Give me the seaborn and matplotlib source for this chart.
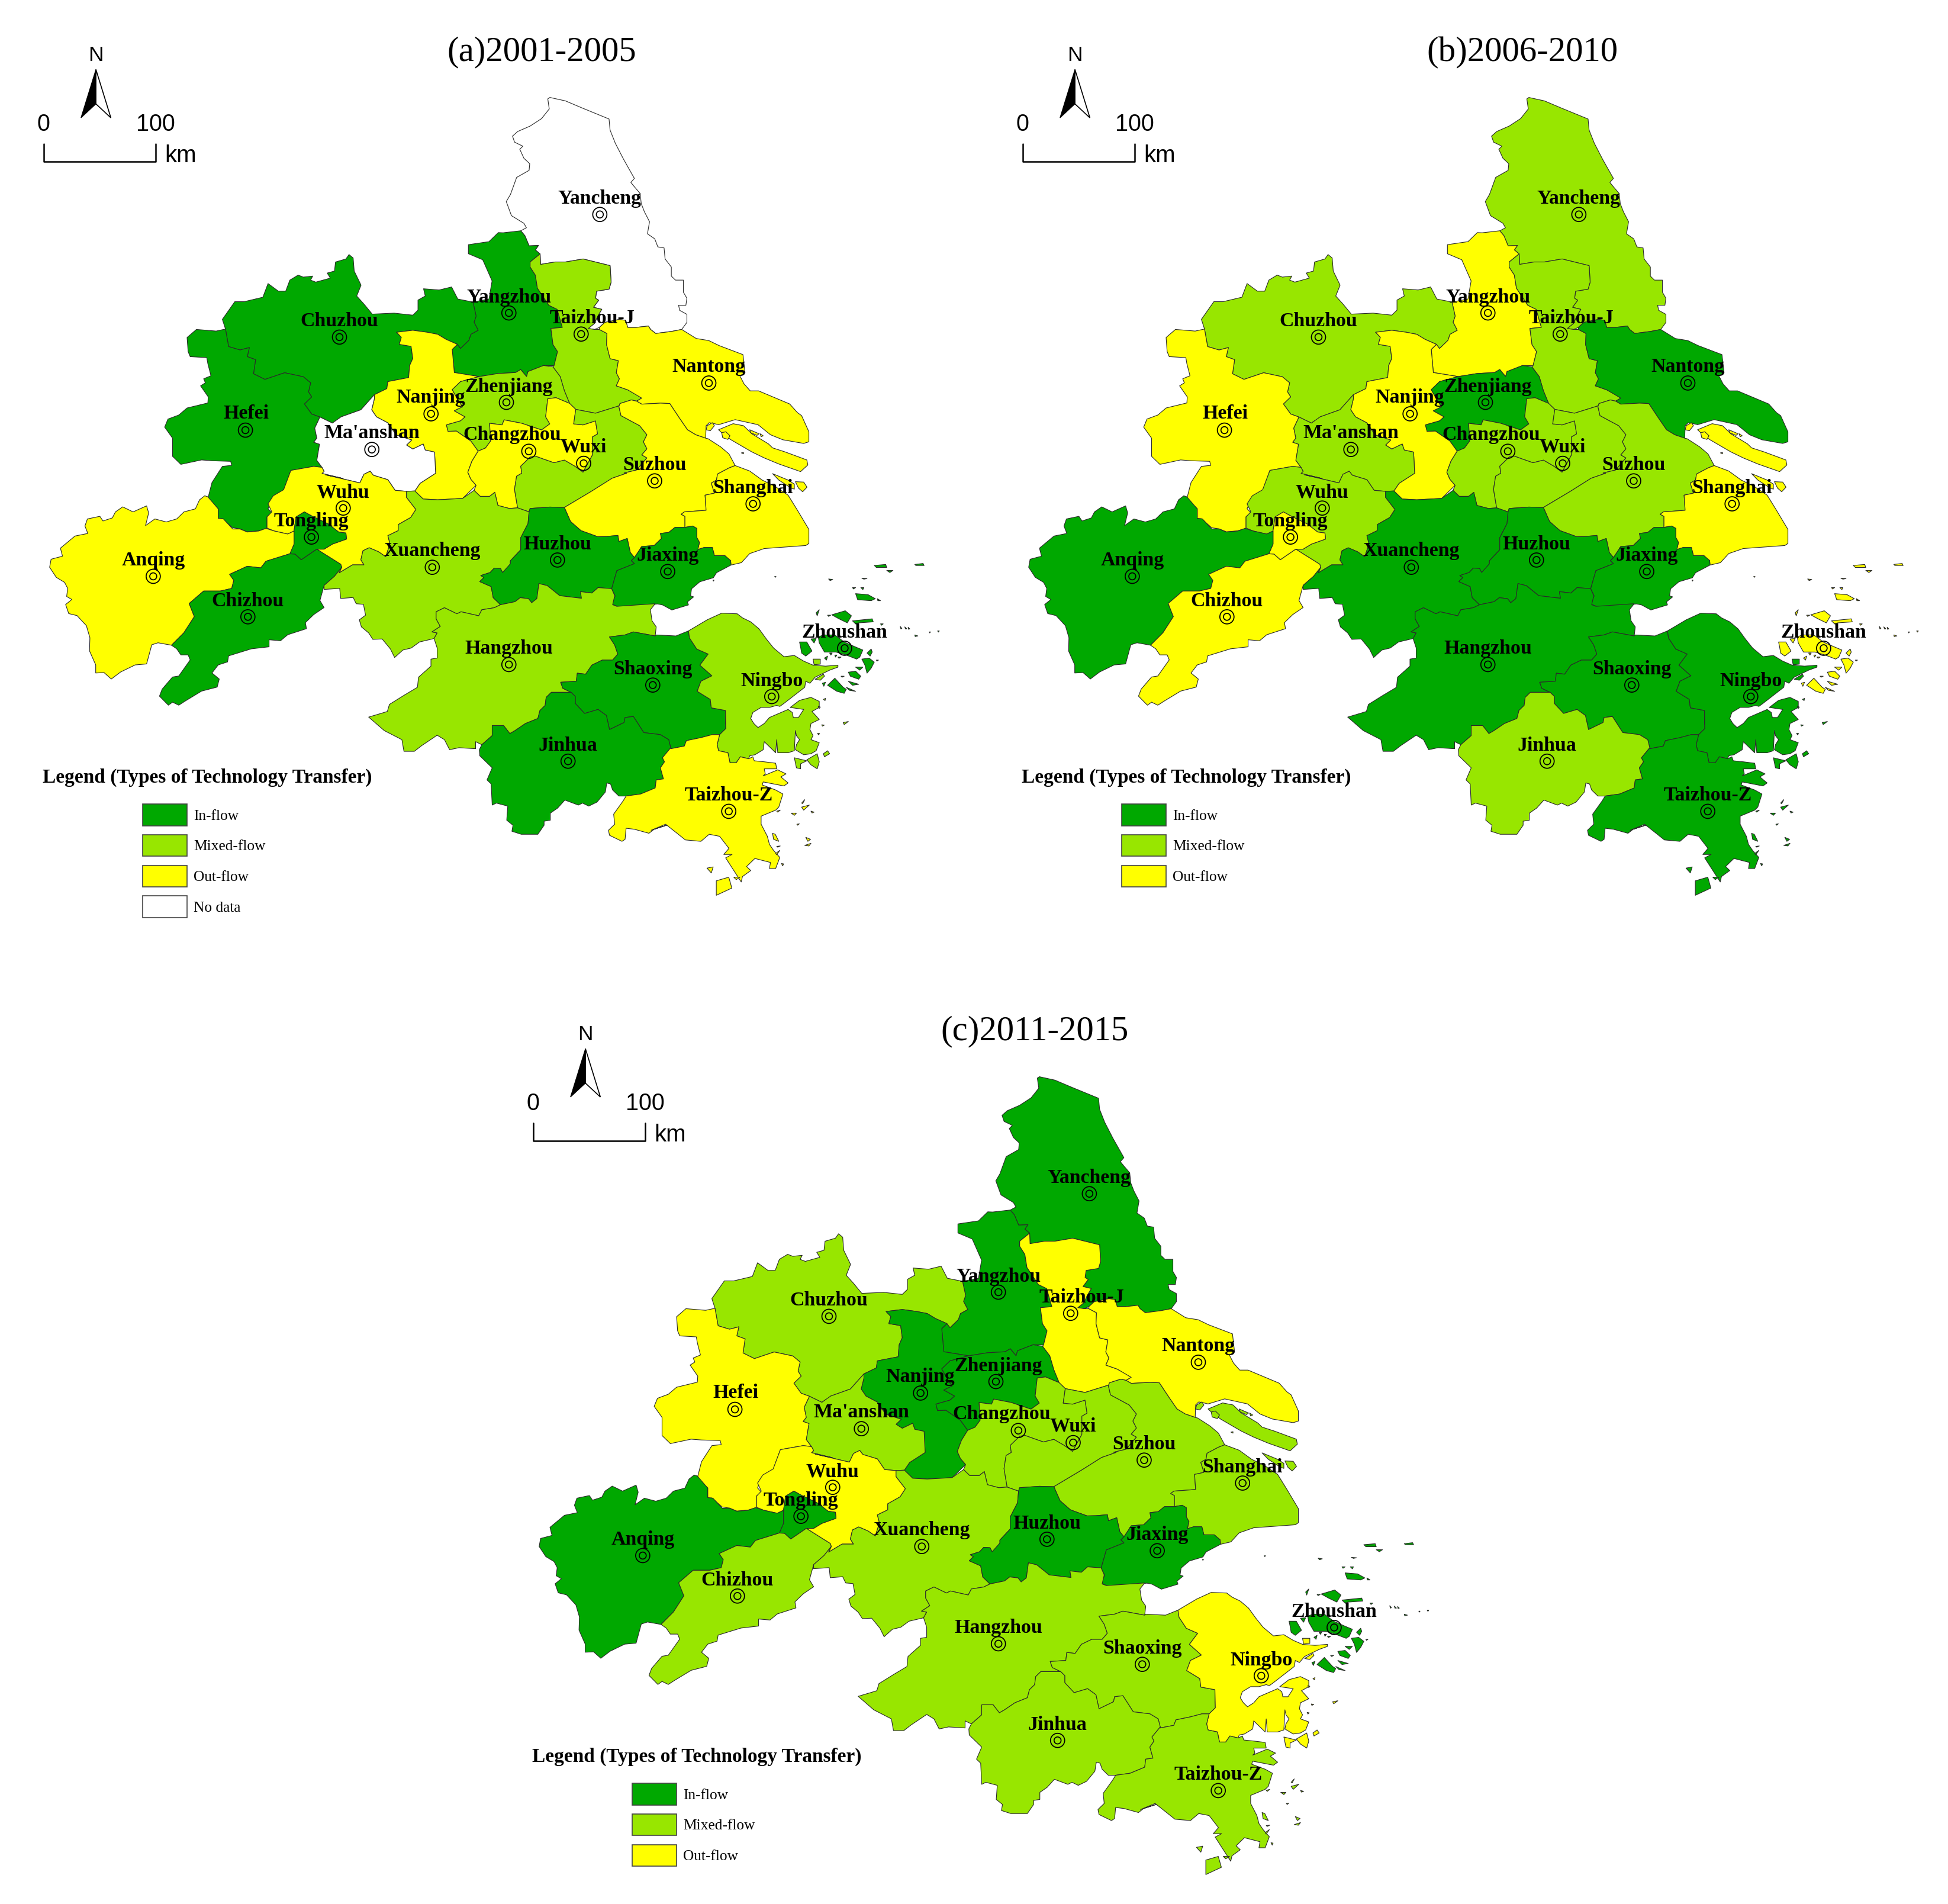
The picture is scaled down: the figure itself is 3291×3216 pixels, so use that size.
import pandas as pd
import seaborn as sns
from matplotlib import pyplot as plt
from matplotlib.patches import Patch


# outlines were traced on enlarged pieces of the map, these put each piece back in map units
def piece(ox, oy):
    return lambda pts: [(ox + x / 3, oy + y / 3) for x, y in pts]


C1 = piece(1045.3, 931)
C2 = piece(522.7, 490)
C3 = piece(807.8, 147)
C4 = piece(950.3, 588)
C5 = piece(57, 392)
C6 = piece(57, 784)
C7 = piece(570.2, 931)

YANCHENG = C3([(178,820),(155,800),(170,778),(125,780),(105,730),(85,705),(112,690),(100,668),(40,630),(15,560),(35,525),(65,440),(125,405),(128,372),(100,345),(80,300),(95,285),(55,265),(45,235),(70,212),(130,185),(185,148),(222,100),(215,50),(225,43),(300,60),(380,95),(510,150),(515,205),(540,270),(580,350),(632,445),(615,465),(635,490),(660,520),(665,570),(680,610),(705,660),(695,720),(730,745),(745,785),(775,790),(780,845),(810,885),(810,930),(830,950),(868,950),(868,1010),(885,1040),(880,1075),(845,1075),(850,1100),(885,1120),(885,1160),(860,1195),(810,1205),(735,1215),(710,1195),(700,1178),(640,1185),(600,1185),(590,1150),(560,1145),(490,1160),(463,1185),(440,1195),(410,1190),(440,1165),(455,1130),(475,1095),(435,1085),(460,1050),(445,1040),(450,1005),(510,995),(520,960),(515,878),(385,845),(300,860),(250,860),(180,872)])
YANGZHOU = C3([(0,715),(85,705),(105,730),(125,780),(170,778),(155,800),(178,820),(130,860),(130,885),(155,925),(165,990),(220,1075),(260,1095),(285,1185),(230,1190),(240,1270),(262,1305),(245,1375)]) + C2([(1050,345),(975,375),(968,400),(940,365),(915,380),(830,385),(740,400),(620,380),(610,265),(635,240),(650,260),(690,220),(700,190),(735,170),(715,130),(725,100),(710,30)]) + [(785,495),(790,465),(775,430),(752,420),(752,405),(785,400),(800,385)]
TAIZHOU_J = C3([(178,820),(180,872),(250,860),(300,860),(385,845),(515,878),(520,960),(510,995),(450,1005),(445,1040),(460,1050),(435,1085),(475,1095),(455,1130),(440,1165),(410,1190),(440,1195),(463,1195),(500,1215),(498,1270),(515,1340),(555,1350),(545,1410),(560,1440),(545,1475),(600,1495),(645,1520)]) + C4([(240,213),(215,228),(190,222),(135,240),(130,255)]) + C2([(1415,545),(1300,582),(1205,563),(1175,533),(1150,470),(1130,400),(1095,352)]) + C3([(245,1375),(262,1305),(240,1270),(230,1190),(285,1185),(260,1095),(220,1075),(165,990),(155,925),(130,885),(130,860)])
NANTONG = C3([(463,1185),(490,1160),(560,1145),(590,1150),(600,1185),(640,1185),(700,1178),(710,1195),(735,1215),(810,1205),(860,1195),(930,1240),(990,1250),(1040,1275),(1155,1320),(1165,1410),(1140,1425),(1160,1465),(1190,1500),(1230,1500),(1380,1565)]) + C4([(990,285),(1010,300),(1045,380),(1045,430),(1020,438),(920,420),(860,395),(800,345),(690,320),(610,345),(590,340),(565,335),(550,350),(548,412),(500,395),(460,370),(420,310),(375,240),(330,238),(240,243),(215,228),(240,213)]) + C3([(600,1495),(545,1475),(560,1440),(545,1410),(555,1350),(515,1340),(498,1270),(500,1215),(463,1195)])
CHUZHOU = C5([(1370,895),(1330,880),(1295,830),(1330,795),(1315,770),(1325,725),(1290,695),(1200,675),(1105,708),(1050,680),(1060,610),(1020,595),(1030,550),(985,562),(930,545),(915,458),(900,410),(960,322),(1005,322),(1095,300),(1120,232),(1170,270),(1205,270),(1225,215),(1265,190),(1290,200),(1335,195),(1325,215),(1350,225),(1420,205),(1405,180),(1440,170),(1445,125),(1495,110),(1510,88),(1530,105),(1535,170),(1568,240)]) + C2([(150,0),(185,40),(225,90),(330,85),(420,95),(445,70),(445,20),(480,0)]) + [(680,478),(705,480),(725,475),(735,495)] + C2([(710,30),(725,100),(715,130),(735,170),(700,190),(690,220),(650,260),(635,240),(580,215),(540,190),(490,180),(420,170),(342,180),(365,205),(355,240),(412,250),(420,310),(405,345),(400,405),(300,425),(295,460),(235,490),(170,565),(75,600),(40,630)]) + C5([(1450,910),(1430,925)])
HEFEI = C5([(915,458),(930,545),(985,562),(1030,550),(1020,595),(1060,610),(1050,680),(1105,708),(1200,675),(1290,695),(1325,725),(1315,770),(1330,795),(1295,830),(1330,880),(1370,895),(1345,950),(1355,1000),(1340,1020),(1368,1030),(1355,1110),(1380,1145),(1340,1140),(1230,1160),(1195,1260),(1145,1290),(1120,1350),(1138,1370),(1115,1390),(1115,1447),(1075,1460),(1020,1465),(985,1450),(950,1445),(900,1400),(880,1400),(880,1350),(830,1300),(850,1220),(900,1140),(945,1135),(940,1115),(850,1112),(800,1108),(700,1130),(660,1090),(660,1000),(622,945),(638,905),(690,885),(730,850),(830,825),(832,795),(795,740),(818,725),(810,705),(845,690),(830,630),(825,600),(745,595),(735,570),(730,500),(775,460),(870,468)])
NANJING = C2([(342,180),(420,170),(490,180),(540,190),(580,215),(635,240),(610,265),(620,380),(740,400),(650,425),(610,465),(640,520),(660,550),(620,570),(672,600),(650,620),(582,640),(590,672),(630,670),(700,720),(735,770),(705,820),(685,875),(700,910),(725,940),(660,1005),(540,1012),(470,1008),(430,968),(455,930),(530,880),(525,775),(480,765),(470,735),(420,760),(390,740),(415,715),(340,690),(300,630),(245,600),(222,565),(235,510),(235,490),(295,460),(300,425),(400,405),(405,345),(420,310),(412,250),(355,240),(365,205)])
ZHENJIANG = C2([(740,400),(830,385),(915,380),(940,365),(968,400),(975,375),(1050,345),(1095,352),(1130,400),(1150,470),(1175,533),(1110,505),(1070,510),(1060,600),(1080,635),(1040,665),(945,632),(860,615),(850,640),(790,632),(795,720),(770,755),(735,770),(700,720),(630,670),(590,672),(582,640),(650,620),(672,600),(620,570),(660,550),(640,520),(610,465),(650,425)])
MAANSHAN = C5([(1370,895),(1430,925),(1450,910)]) + C2([(75,600),(170,565),(235,490),(235,510),(222,565),(245,600),(300,630),(340,690),(415,715),(390,740),(420,760),(470,735),(480,765),(525,775),(530,880),(455,930),(430,968),(390,970),(335,965),(300,912),(230,890),(215,870),(185,885),(165,928),(0,888)]) + C5([(1480,1200),(1380,1175),(1390,1165),(1380,1145),(1355,1110),(1368,1030),(1340,1020),(1355,1000),(1345,950)])
CHANGZHOU = C2([(1070,510),(1110,505),(1175,533),(1205,563),(1195,635),(1240,640),(1300,620),(1310,685),(1285,700),(1285,790),(1240,875),(1200,845),(1150,815),(1100,828),(1050,810),(1010,795),(985,800),(940,845),(945,880),(920,895),(910,960),(925,1052),(885,1055),(830,1040),(815,975),(790,995),(745,995),(715,965),(725,940),(700,910),(685,875),(705,820),(735,770),(770,755),(795,720),(790,632),(850,640),(860,615),(945,632),(1040,665),(1080,635),(1060,600)])
WUXI = C2([(1205,563),(1300,582),(1415,545)]) + C4([(130,255),(140,300),(230,350),(265,395),(248,430),(265,465),(240,495),(265,510),(215,570),(155,585)]) + C2([(1450,880),(1380,905),(1280,970),(1150,1050),(1080,1048),(985,1055),(980,1072),(925,1052),(910,960),(920,895),(945,880),(940,845),(985,800),(1010,795),(1050,810),(1100,828),(1150,815),(1200,845),(1240,875),(1285,790),(1285,700),(1310,685),(1300,620),(1240,640),(1195,635)])
SUZHOU = C4([(130,255),(135,240),(190,222),(215,228),(240,243),(330,238),(375,240),(420,310),(460,370),(500,395),(548,412),(560,415),(620,455),(660,490),(690,548),(660,560),(605,590),(600,620),(575,635),(590,685),(545,695),(550,770),(445,778),(430,790),(448,800),(448,855),(400,855),(370,880),(330,885),(335,910),(300,945),(240,950),(205,1005),(185,980),(170,910),(130,925),(125,895),(70,900)]) + C2([(1310,1195),(1230,1165),(1180,1120),(1150,1050),(1280,970),(1380,905),(1450,880)]) + C4([(155,585),(215,570),(265,510),(240,495),(265,465),(248,430),(265,395),(230,350),(140,300)])
SHANGHAI = C4([(690,548),(760,575),(820,620),(880,650),(945,695),(990,770),(1045,865),(1045,935),(1030,945),(830,960),(760,985),(720,1030),(670,1042),(668,1020),(640,995),(590,995),(580,955),(540,955),(510,965),(518,930),(505,905),(505,860),(485,848),(448,855),(448,800),(430,790),(445,778),(550,770),(545,695),(590,685),(575,635),(600,620),(605,590),(660,560)])
WUHU = C5([(1230,1160),(1340,1140),(1380,1145),(1390,1165),(1380,1175),(1480,1200)]) + C2([(0,888),(165,928),(185,885),(215,870),(230,890),(300,912),(335,965),(390,970),(390,1000),(435,1060),(410,1100),(350,1135),(350,1165),(300,1190),(310,1230),(290,1295),(255,1270),(210,1250),(180,1265),(170,1310),(185,1335),(130,1335),(65,1375)]) + C6([(1475,465),(1470,450),(1385,395),(1355,375),(1390,375),(1430,350),(1498,325),(1495,295),(1460,290),(1410,250),(1330,210),(1295,190),(1255,215),(1245,285),(1215,300),(1150,285),(1115,270),(1115,215),(1138,190),(1120,150),(1145,110),(1195,80)])
TONGLING = C6([(1245,285),(1255,215),(1295,190),(1330,210),(1410,250),(1460,290),(1495,295),(1498,325),(1430,350),(1390,375),(1355,375),(1280,428),(1250,400),(1225,398),(1245,350)])
ANQING = C6([(830,115),(815,110),(790,130),(770,175),(715,190),(680,225),(630,240),(575,225),(530,258),(545,195),(535,160),(470,190),(420,165),(385,190),(370,220),(325,235),(310,212),(250,225),(238,260),(252,297),(190,310),(120,370),(130,410),(75,425),(68,465),(100,515),(140,540),(155,570),(150,610),(175,625),(145,650),(160,695),(200,705),(245,755),(262,815),(260,880),(290,950),(290,990),(330,988),(365,1020),(410,985),(480,950),(535,945),(560,850),(590,840),(655,852),(715,790),(765,710),(740,645),(810,583),(890,583),(945,570),(955,530),(935,500),(1020,460),(1085,468),(1110,435),(1225,398),(1245,350),(1245,285),(1215,300),(1150,285),(1110,272),(1075,285),(1020,290),(985,275),(950,275),(905,225),(880,222),(880,175)])
CHIZHOU = C6([(655,852),(715,790),(765,710),(740,645),(810,583),(890,583),(945,570),(955,530),(935,500),(1020,460),(1085,468),(1110,435),(1225,398),(1250,400),(1280,428),(1355,375),(1385,395),(1470,450),(1475,465),(1440,510),(1390,555),(1370,630),(1390,665),(1340,700),(1300,740),(1305,770),(1215,800),(1180,830),(1125,825),(1125,860),(1040,870),(930,905),(925,935),(880,950),(850,990),(885,1020),(875,1060),(800,1080),(720,1130),(690,1150),(660,1135),(640,1150),(597,1105),(610,1070),(660,1010),(690,1005),(745,925),(735,900),(700,900),(680,870)])
XUANCHENG = C2([(390,970),(430,968),(470,1008),(540,1012),(660,1005),(715,965),(745,995),(790,995),(815,975),(830,1040),(885,1055),(925,1052),(980,1072),(975,1130),(940,1200),(940,1260),(890,1315),(890,1330),(860,1370)]) + C7([(710,50),(700,30),(670,28),(650,50),(605,65),(620,75),(600,95),(655,120),(665,175),(700,210),(670,225),(610,235),(595,265),(510,245),(490,255),(430,225),(390,245),(390,280),(410,318),(370,345),(395,350),(380,378),(310,395),(270,425),(230,435),(190,472),(170,430),(130,380),(85,382),(65,350),(30,320),(20,285),(50,262),(40,208),(5,205)]) + C6([(1530,615),(1470,620),(1465,570),(1390,575),(1390,555),(1440,510),(1475,465)]) + C2([(65,1375),(130,1335),(185,1335),(170,1310),(180,1265),(210,1250),(255,1270),(290,1295),(310,1230),(300,1190),(350,1165),(350,1135),(410,1100),(435,1060),(390,1000)])
HUZHOU = C2([(1150,1050),(1180,1120),(1230,1165),(1310,1195)]) + C4([(70,900),(125,895),(130,925),(170,910),(185,980),(205,1005),(190,1020),(205,1035),(120,1070),(95,1160)]) + C7([(1170,125),(1140,152),(1085,145),(1090,178),(985,165),(925,115),(885,105),(875,180),(850,200),(835,180),(795,175),(770,195),(700,210),(665,175),(655,120),(600,95),(620,75),(605,65),(650,50),(670,28),(700,30),(710,50)]) + C2([(890,1330),(890,1315),(940,1260),(940,1200),(975,1130),(980,1072),(985,1055),(1080,1048)])
JIAXING = C4([(205,1005),(240,950),(300,945),(335,910),(330,885),(370,880),(400,855),(448,855),(485,848),(505,860),(505,905),(518,930),(510,965),(540,955),(580,955),(590,995),(640,995),(668,1020),(670,1042),(600,1080),(585,1105),(520,1125),(480,1160),(475,1195),(490,1200),(460,1225),(465,1240),(385,1265),(340,1240),(315,1235),(280,1240),(130,1250),(95,1235),(112,1195),(95,1160),(120,1070),(205,1035),(190,1020)])
HANGZHOU = C7([(700,210),(770,195),(795,175),(835,180),(850,200),(875,180),(885,105),(925,115),(985,165),(1090,178),(1085,145),(1140,152),(1170,125),(1235,130),(1250,165),(1240,210),(1260,218),(1445,205),(1422,235),(1430,290),(1450,320),(1445,365),(1340,345),(1300,360),(1225,370),(1250,410),(1265,455),(1240,485),(1190,485),(1140,510),(1110,555),(1070,550),(1065,590),(990,595),(1000,625),(1040,645),(945,645),(920,670),(915,710),(890,735),(880,775),(820,800),(770,835),(745,850),(715,810),(660,810),(660,860),(610,905),(580,890),(580,925),(500,920),(455,930),(430,880),(395,858),(320,910),(285,938),(235,938),(225,880),(140,835),(65,768),(130,748),(155,740),(165,705),(235,660),(300,620),(305,570),(365,515),(365,480),(395,475),(395,425),(380,378),(395,350),(370,345),(410,318),(390,280),(390,245),(430,225),(490,255),(510,245),(595,265),(610,235),(670,225)])
SHAOXING = C7([(1225,370),(1300,360),(1340,345),(1445,365)]) + C1([(25,360),(120,365),(180,340),(185,375),(220,430),(275,455),(235,510),(293,563),(240,590),(222,640),(285,680),(290,722),(358,735),(358,800),(360,825),(330,855),(295,855),(240,870),(170,885),(160,912),(95,925)]) + C7([(1510,880),(1470,855),(1390,845),(1340,765),(1300,770),(1295,795),(1225,830),(1210,760),(1170,730),(1105,750),(1060,700),(1060,665),(1040,645),(1000,625),(990,595),(1065,590),(1070,550),(1110,555),(1140,510),(1190,485),(1240,485),(1265,455),(1250,410)])
JINHUA = C7([(945,645),(1040,645),(1060,665),(1060,700),(1105,750),(1170,730),(1210,760),(1225,830),(1295,795),(1300,770),(1340,765),(1390,845),(1470,855),(1510,880),(1520,920),(1480,970),(1490,990),(1470,1020),(1485,1075),(1450,1080),(1445,1120),(1375,1150),(1305,1160),(1270,1160),(1240,1130),(1230,1100),(1212,1095),(1205,1140),(1165,1190),(1125,1210),(1095,1195),(1075,1205),(1010,1180),(975,1220),(940,1245),(940,1280),(910,1285),(910,1305),(880,1350),(800,1350),(755,1335),(760,1305),(730,1280),(735,1210),(680,1195),(660,1205),(655,1100),(635,1080),(660,1020),(600,960),(598,930),(610,905),(660,860),(660,810),(715,810),(745,850),(770,835),(820,800),(880,775),(890,735),(915,710),(920,670)])
NINGBO = C1([(180,340),(270,285),(340,252),(415,255),(440,275),(480,295),(520,330),(555,380),(590,425),(640,468),(690,462),(735,490),(780,510),(840,515),(900,510),(900,520),(860,535),(830,550),(790,570),(765,600),(745,590),(740,620),(690,660),(640,700),(620,715),(605,710),(570,720),(530,720),(490,745),(480,775),(495,800),(515,820),(545,800),(570,770),(660,730),(680,745),(685,770),(710,770),(735,730),(670,720),(715,685),(770,670),(810,690),(810,720),(775,740),(810,780),(770,800),(765,830),(780,860),(770,880),(810,895),(795,935),(770,950),(735,955),(695,930),(700,905),(715,880),(700,860),(695,835),(690,935),(660,945),(610,945),(605,880),(600,945),(545,890),(540,930),(500,955),(475,960),(470,975),(430,965),(410,995),(380,995),(370,945),(325,935),(318,905),(330,855),(360,825),(358,735),(290,722),(285,680),(222,640),(240,590),(293,563),(235,510),(275,455),(220,430),(185,375)])
TAIZHOU_Z = C7([(1520,920)]) + C1([(95,925),(160,912),(170,885),(240,870),(295,855),(330,855),(318,905),(325,935),(370,945),(380,995),(410,995),(430,965),(470,975),(490,965),(497,985),(545,990),(600,997),(605,1025),(545,1025),(550,1050),(540,1060),(610,1030),(650,1050),(625,1065),(660,1095),(640,1110),(540,1090),(535,1105),(600,1130),(635,1150),(615,1215),(600,1230),(530,1260),(530,1300),(560,1360),(570,1400),(590,1430),(620,1465),(600,1520),(570,1520),(575,1490),(500,1470),(460,1510),(480,1530),(440,1560)]) + [(1190,1460),(1165,1420)] + C1([(390,1450),(350,1450),(375,1420),(330,1360),(280,1350),(240,1385),(165,1378),(125,1345),(70,1300),(0,1330)]) + C7([(1500,1305),(1440,1325),(1415,1345),(1345,1325),(1305,1320),(1300,1375),(1285,1385),(1225,1355),(1220,1330),(1250,1300),(1245,1250),(1290,1185),(1305,1160),(1375,1150),(1445,1120),(1450,1080),(1485,1075),(1470,1020),(1490,990),(1480,970)])

SHANGHAI_ISLES = [C4(p) for p in [
    [(610,370),(680,340),(730,350),(770,390),(850,440),(870,460),(930,480),(1035,520),(1040,545),(1005,578),(900,540),(830,510),(770,480),(670,420),(630,390)],
    [(555,350),(580,335),(590,350),(570,375),(550,370)],
    [(625,385),(645,380),(665,400),(655,418),(630,410)],
    [(760,370),(805,390),(795,398),(765,385)],
    [(810,390),(825,400),(815,405)],
    [(870,588),(945,620),(975,640),(975,665),(960,660),(900,620)],
    [(980,628),(1020,630),(1036,655),(1015,678),(995,660)],
    [(720,485),(730,483),(730,490)],
]]
NINGBO_ISLES = [C1(p) for p in [
    [(750,980),(800,950),(810,990),(800,1025),(770,1005)],
    [(690,970),(750,985),(720,1000),(720,1025),(700,1020)],
    [(830,950),(850,935),(860,950),(835,965)],
    [(780,480),(815,480),(815,505),(785,508)],
    [(790,580),(830,555),(835,565),(815,585)],
    [(830,680),(840,675),(838,686)],
    [(805,715),(815,718),(810,725)],
    [(822,806),(834,808),(825,813)],
    [(802,848),(812,850),(806,856)],
    [(925,795),(950,790),(930,805)],
]]
TAIZHOU_Z_ISLES = [C1(p) for p in [
    [(725,1195),(740,1178),(730,1198)],
    [(725,1215),(762,1205),(735,1230)],
    [(675,1245),(700,1245),(690,1256)],
    [(770,1235),(785,1240),(775,1244)],
    [(605,1235),(622,1230),(610,1240)],
    [(745,1365),(768,1375),(755,1385)],
    [(740,1405),(770,1395),(760,1408)],
    [(585,1345),(598,1350),(615,1385),(590,1375)],
    [(605,1410),(622,1408),(610,1414)],
    [(600,1445),(620,1430),(605,1452)],
    [(628,1495),(638,1497),(634,1507)],
    [(702,1300),(714,1298),(706,1305)],
]] + [[(1150,1458),(1170,1452),(1175,1470),(1150,1482)], [(1135,1437),(1145,1435),(1142,1445)], [(1178,1452),(1188,1452),(1182,1456)]]
ZHOUSHAN_ISLES = [C1(p) for p in [
    [(805,370),(830,360),(885,360),(930,395),(985,420),(1020,435),(1005,470),(990,480),(940,460),(890,445),(835,445),(810,400)],
    [(715,395),(750,395),(775,440),(745,465),(725,450),(720,420)],
    [(870,260),(935,240),(965,265),(945,300),(905,280)],
    [(970,290),(1065,280),(1070,295),(1000,300),(985,305)],
    [(985,155),(1045,160),(1080,180),(1060,190),(995,185)],
    [(1015,480),(1050,475),(1075,495),(1060,525),(1040,550),(1030,510)],
    [(950,545),(985,540),(1010,565),(1000,580),(960,565)],
    [(850,610),(885,575),(925,620),(940,630),(930,650),(895,640)],
    [(950,590),(1000,605),(970,610)],
    [(940,620),(985,640),(955,635)],
    [(1040,450),(1060,430),(1065,445),(1055,465)],
    [(770,380),(795,378),(785,400)],
    [(795,250),(810,235),(800,265)],
    [(1075,15),(1130,10),(1135,25),(1085,25)],
    [(1135,40),(1165,40),(1150,50)],
    [(1270,10),(1310,5),(1315,15),(1275,15)],
    [(985,520),(1020,520),(1005,535)],
    [(825,600),(840,595),(832,615)],
    [(835,475),(850,465),(845,485)],
    [(860,450),(872,450),(866,460)],
    [(885,460),(895,460),(888,470)],
    [(900,470),(915,470),(905,476)],
    [(1105,305),(1118,305),(1110,312)],
    [(1270,360),(1285,365),(1272,368)],
    [(1200,318),(1208,328),(1203,330)],
    [(1222,320),(1232,330),(1225,330)],
    [(1238,322),(1246,330),(1240,332)],
    [(855,82),(875,85),(862,90)],
    [(970,125),(985,125),(975,132)],
    [(1010,125),(1025,125),(1020,135)],
    [(1090,180),(1105,190),(1092,190)],
    [(1015,78),(1040,80),(1025,83)],
    [(850,262),(865,262),(855,268)],
    [(915,565),(930,565),(920,570)],
    [(1085,485),(1095,485),(1088,490)],
    [(1380,340),(1388,340),(1384,346)],
    [(1340,345),(1346,345),(1342,350)],
    [(595,70),(602,70),(598,74)],
    [(298,88),(303,88),(300,93)],
]]

CITY_OUTLINES = [YANCHENG, YANGZHOU, TAIZHOU_J, NANTONG, CHUZHOU, HEFEI, NANJING, ZHENJIANG, MAANSHAN,
                 CHANGZHOU, WUXI, SUZHOU, SHANGHAI, WUHU, TONGLING, ANQING, CHIZHOU, XUANCHENG, HUZHOU,
                 JIAXING, HANGZHOU, SHAOXING, JINHUA, NINGBO, TAIZHOU_Z]
CITY_NAMES = ['Yancheng', 'Yangzhou', 'Taizhou-J', 'Nantong', 'Chuzhou', 'Hefei', 'Nanjing', 'Zhenjiang', "Ma'anshan",
              'Changzhou', 'Wuxi', 'Suzhou', 'Shanghai', 'Wuhu', 'Tongling', 'Anqing', 'Chizhou', 'Xuancheng', 'Huzhou',
              'Jiaxing', 'Hangzhou', 'Shaoxing', 'Jinhua', 'Ningbo', 'Taizhou-Z', 'Zhoushan']
MARK_X = [963, 817, 933, 1138, 545, 394, 692, 813, 597, 849, 937, 1051, 1209, 551, 500, 246, 398, 694, 895, 1072, 817, 1048, 912, 1239, 1170, 1356]
MARK_Y = [355, 518, 553, 634, 558, 712, 685, 666, 744, 747, 767, 796, 834, 841, 889, 954, 1021, 939, 927, 946, 1100, 1134, 1260, 1153, 1343, 1073]
LABEL_X = [963, 817, 951, 1138, 545, 395, 692, 817, 597, 822, 937, 1051, 1209, 551, 500, 246, 398, 694, 895, 1072, 817, 1048, 912, 1239, 1170, 1356]
LABEL_Y = [329, 492, 527, 607, 532, 685, 658, 640, 717, 720, 740, 770, 808, 815, 863, 928, 995, 912, 901, 920, 1074, 1108, 1234, 1127, 1317, 1047]

# islands that go with one city: (index into CITY_NAMES, outlines)
ISLANDS = [(12, SHANGHAI_ISLES), (23, NINGBO_ISLES), (24, TAIZHOU_Z_ISLES), (25, ZHOUSHAN_ISLES)]

# I in-flow, M mixed-flow, O out-flow, N no data; same order as CITY_NAMES
FLOW_A = list('NIMOIIOMNOMOOOIOIMIIMIIMOI')
FLOW_B = list('MOMIMOOIMMMMOMOIOIIIIIMIIO')
FLOW_C = list('IIOOMOIIMMMMMOIIMMIIMMMOMI')

PERIODS = ['(a)2001-2005', '(b)2006-2010', '(c)2011-2015']
FLOW_LABELS = ['In-flow', 'Mixed-flow', 'Out-flow', 'No data']
FLOW_KEYS = ['I', 'M', 'O', 'N']

sns.set_theme(style='white')
plt.rcParams['font.family'] = ['Liberation Serif', 'DejaVu Serif']
palette = sns.color_palette(['#00A800', '#98E600', '#FFFF00', '#FFFFFF'])
colors = dict(zip(FLOW_KEYS, palette))

W, H = 3291, 3216
fig = plt.figure(figsize=(W / 300, H / 300), dpi=300)
edge = '#2a2a2a'


def draw_panel(left, top, period, flows, title_x):
    ax = fig.add_axes([left / W, 1 - (top + 1600) / H, 1650 / W, 1600 / H])
    for outline, flow in zip(CITY_OUTLINES, flows):
        xs, ys = zip(*outline)
        ax.fill(xs, ys, fc=colors[flow], ec=edge, lw=0.27, joinstyle='round')
    for i, outlines in ISLANDS:
        for outline in outlines:
            xs, ys = zip(*outline)
            ax.fill(xs, ys, fc=colors[flows[i]], ec=edge, lw=0.27, joinstyle='round')

    marks = pd.DataFrame({'x': MARK_X, 'y': MARK_Y})
    for s in (33, 8):
        sns.scatterplot(data=marks, x='x', y='y', ax=ax, s=s, color='none', edgecolor='black',
                        linewidth=0.42, legend=False, zorder=5)
    for name, x, y in zip(CITY_NAMES, LABEL_X, LABEL_Y):
        ax.text(x, y, name, ha='center', va='center', fontsize=8.15, fontweight='bold', color='black', zorder=6)

    ax.text(title_x, 87, period, ha='center', va='center', fontsize=14.1, color='black')

    # north arrow and scale bar
    ax.fill([154, 130, 154], [115, 195, 172], fc='black', ec='black', lw=0.3)
    ax.fill([154, 178, 154], [115, 195, 172], fc='white', ec='black', lw=0.4)
    sans = ['Liberation Sans', 'DejaVu Sans']
    ax.text(154, 92, 'N', ha='center', va='center', fontsize=8.5, family=sans, color='black')
    ax.plot([70, 70, 250, 250], [238, 268, 268, 238], color='black', lw=0.6)
    ax.text(70, 206, '0', ha='center', va='center', fontsize=9.5, family=sans, color='black')
    ax.text(250, 206, '100', ha='center', va='center', fontsize=9.5, family=sans, color='black')
    ax.text(264, 258, 'km', ha='left', va='center', fontsize=9.7, family=sans, color='black')

    # legend
    ax.text(68, 1287, 'Legend (Types of Technology Transfer)', ha='left', va='center', fontsize=8,
            fontweight='bold', color='black')
    keys = [k for k in FLOW_KEYS if k in flows]
    handles = [Patch(fc=colors[k], ec='#444444', lw=0.4, label=FLOW_LABELS[FLOW_KEYS.index(k)]) for k in keys]
    ax.legend(handles=handles, loc='upper left', bbox_to_anchor=(229, 1331), bbox_transform=ax.transData,
              frameon=False, fontsize=6.1, handlelength=2.95, handleheight=1.83, labelspacing=0.6,
              handletextpad=0.45, borderpad=0, borderaxespad=0, labelcolor='black')

    ax.set_xlim(0, 1568)
    ax.set_ylim(1568, 0)
    ax.axis('off')


draw_panel(0, 0, PERIODS[0], FLOW_A, 870)
draw_panel(1654, 0, PERIODS[1], FLOW_B, 872)
draw_panel(827, 1654, PERIODS[2], FLOW_C, 875)

fig.savefig('out.png', dpi=300, facecolor='white')
